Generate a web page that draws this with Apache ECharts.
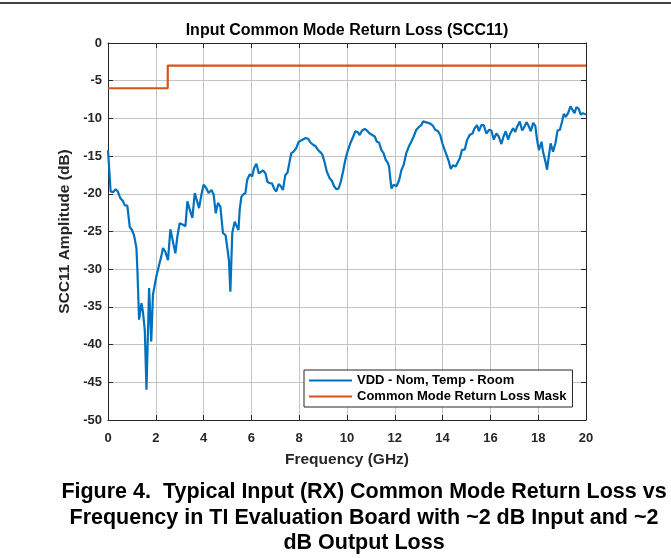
<!DOCTYPE html>
<html>
<head>
<meta charset="utf-8">
<script src="https://cdn.jsdelivr.net/npm/echarts@6/dist/echarts.min.js"></script>
<style>
html,body{margin:0;padding:0;background:#fff;}
#chart{width:671px;height:558px;}
</style>
</head>
<body>
<div id="chart"></div>
<script>
// ---- data ----
const freqGHz = [0,0.11,0.21,0.32,0.41,0.52,0.63,0.70,0.81,0.91,1.00,1.09,1.19,1.23,1.30,1.40,1.46,1.54,1.61,1.72,1.81,1.88,2.02,2.14,2.23,2.30,2.40,2.51,2.61,2.69,2.82,2.90,3.00,3.14,3.24,3.32,3.42,3.53,3.63,3.70,3.81,3.91,4.00,4.12,4.21,4.33,4.42,4.51,4.60,4.70,4.81,4.92,5.00,5.06,5.12,5.20,5.30,5.37,5.46,5.51,5.58,5.65,5.75,5.82,5.93,6.03,6.11,6.21,6.31,6.39,6.49,6.59,6.67,6.77,6.86,6.95,7.04,7.14,7.23,7.32,7.42,7.51,7.60,7.67,7.77,7.88,7.98,8.06,8.16,8.27,8.37,8.47,8.58,8.69,8.79,8.89,8.97,9.07,9.16,9.27,9.37,9.46,9.56,9.65,9.74,9.83,9.93,10.04,10.14,10.25,10.35,10.44,10.53,10.63,10.74,10.83,10.95,11.06,11.16,11.25,11.34,11.44,11.53,11.62,11.71,11.76,11.82,11.86,11.95,12.00,12.07,12.18,12.28,12.37,12.48,12.59,12.69,12.79,12.90,13.02,13.11,13.18,13.28,13.39,13.49,13.60,13.69,13.81,13.90,13.99,14.09,14.16,14.26,14.34,14.44,14.54,14.62,14.72,14.81,14.93,15.02,15.13,15.25,15.34,15.44,15.52,15.62,15.72,15.83,15.95,16.04,16.14,16.25,16.35,16.46,16.55,16.64,16.74,16.83,16.95,17.04,17.12,17.23,17.33,17.41,17.51,17.60,17.69,17.79,17.88,17.95,18.03,18.14,18.20,18.30,18.37,18.44,18.52,18.62,18.72,18.81,18.91,19.00,19.07,19.15,19.25,19.35,19.43,19.52,19.60,19.69,19.78,19.87,19.95,20.00];
const scc11dB = [-14.2,-19.7,-19.8,-19.4,-19.7,-20.6,-21.0,-21.5,-21.6,-24.4,-24.8,-25.5,-27.2,-30.1,-36.7,-34.5,-35.6,-38.1,-46.0,-32.5,-39.6,-33.4,-31.0,-29.4,-28.3,-27.2,-27.7,-28.8,-24.7,-24.7,-27.9,-25.7,-23.9,-24.1,-24.3,-21.0,-22.1,-23.2,-19.9,-19.9,-21.9,-20.1,-18.8,-19.3,-19.9,-19.5,-20.1,-22.6,-21.2,-21.7,-25.2,-25.5,-25.6,-28.8,-33.0,-25.2,-23.7,-23.8,-24.8,-22.1,-20.4,-20.1,-19.9,-18.2,-17.4,-17.7,-16.6,-16.0,-17.3,-17.3,-16.9,-17.3,-18.4,-18.6,-18.6,-19.3,-19.7,-18.7,-19.0,-19.5,-17.5,-17.2,-15.7,-14.6,-14.4,-13.9,-13.1,-13.2,-12.8,-12.6,-12.7,-13.2,-13.5,-13.7,-14.2,-14.5,-14.8,-15.9,-17.1,-17.9,-18.3,-19.0,-19.4,-19.3,-18.4,-17.1,-15.5,-14.2,-13.3,-12.5,-11.7,-11.8,-12.2,-11.6,-11.4,-11.6,-12.0,-12.2,-12.4,-13.1,-13.2,-14.2,-14.6,-15.5,-15.9,-16.4,-18.2,-19.3,-18.8,-18.9,-19.0,-18.2,-16.8,-16.2,-14.6,-13.7,-13.1,-12.4,-11.5,-11.1,-10.9,-10.4,-10.5,-10.6,-10.7,-11.0,-11.5,-11.7,-12.2,-13.3,-14.2,-14.8,-15.7,-16.7,-16.2,-16.4,-16.6,-15.3,-14.2,-14.1,-12.9,-12.2,-12.0,-11.3,-10.9,-11.7,-10.9,-10.9,-12.0,-11.5,-11.6,-12.8,-12.0,-12.4,-13.4,-12.4,-11.7,-12.8,-12.0,-11.3,-11.8,-11.1,-10.4,-11.6,-11.2,-10.5,-11.0,-11.7,-10.6,-11.0,-12.8,-14.2,-13.1,-14.4,-15.7,-16.8,-15.1,-13.3,-14.4,-13.3,-11.6,-11.5,-10.4,-9.4,-9.8,-9.3,-8.4,-8.5,-9.3,-8.5,-8.7,-9.5,-9.3,-9.4,-9.5];
const maskFreqGHz = [0, 2.5, 2.5, 20];
const maskdB = [-6, -6, -3, -3];
const seriesNames = ['VDD - Nom, Temp - Room', 'Common Mode Return Loss Mask'];
const chartTitle = 'Input Common Mode Return Loss (SCC11)';
const xAxisName = 'Frequency (GHz)';
const yAxisName = 'SCC11 Amplitude (dB)';
const captionLines = [
  'Figure 4.  Typical Input (RX) Common Mode Return Loss vs',
  'Frequency in TI Evaluation Board with ~2 dB Input and ~2',
  'dB Output Loss'
];

const FONT = "'Liberation Sans', Arial, sans-serif";
const AX = '#262626';
const blueData = freqGHz.map((f, i) => [f, scc11dB[i]]);
const maskData = maskFreqGHz.map((f, i) => [f, maskdB[i]]);

const chart = echarts.init(document.getElementById('chart'), null, {renderer: 'canvas'});
const baseAxis = {
  type: 'value',
  axisLine: {show: true, onZero: false, lineStyle: {color: AX, width: 1}},
  axisTick: {show: true, inside: true, length: 5, lineStyle: {color: AX}},
  splitLine: {show: false},
  axisLabel: {show: false}
};
chart.setOption({
  animation: false,
  backgroundColor: '#fff',
  grid: {left: 108, right: 85, top: 43, bottom: 138, containLabel: false},
  legend: {
    orient: 'vertical',
    left: 304, top: 370,
    data: seriesNames,
    icon: 'rect',
    itemWidth: 43, itemHeight: 2,
    itemGap: 3,
    padding: [4, 6, 4, 5],
    backgroundColor: '#fff',
    borderColor: AX, borderWidth: 1,
    textStyle: {fontFamily: FONT, fontWeight: 'bold', fontSize: 13, color: '#000'}
  },
  xAxis: [
    Object.assign({}, baseAxis, {
      position: 'bottom', min: 0, max: 20, interval: 2,
      name: xAxisName, nameLocation: 'middle', nameGap: 32,
      nameTextStyle: {fontFamily: FONT, fontWeight: 'bold', fontSize: 15.5, color: AX},
      axisLabel: {show: true, margin: 12, fontFamily: FONT, fontWeight: 'bold', fontSize: 13, color: AX},
      splitLine: {show: true, lineStyle: {color: '#c4c4c4', width: 1}}
    }),
    Object.assign({}, baseAxis, {position: 'top', min: 0, max: 20, interval: 2})
  ],
  yAxis: [
    Object.assign({}, baseAxis, {
      position: 'left', min: -50, max: 0, interval: 5,
      name: yAxisName, nameLocation: 'middle', nameGap: 32,
      nameTextStyle: {fontFamily: FONT, fontWeight: 'bold', fontSize: 15.5, color: AX},
      axisLabel: {show: true, margin: 6, fontFamily: FONT, fontWeight: 'bold', fontSize: 13, color: AX},
      splitLine: {show: true, lineStyle: {color: '#c4c4c4', width: 1}}
    }),
    Object.assign({}, baseAxis, {position: 'right', min: -50, max: 0, interval: 5})
  ],
  series: [
    {
      name: seriesNames[0], type: 'line', data: blueData,
      xAxisIndex: 0, yAxisIndex: 0,
      showSymbol: false, symbol: 'none',
      color: '#0072BD',
      lineStyle: {color: '#0072BD', width: 2.2}
    },
    {
      name: seriesNames[1], type: 'line', data: maskData,
      xAxisIndex: 0, yAxisIndex: 0,
      showSymbol: false, symbol: 'none',
      color: '#D95319',
      lineStyle: {color: '#D95319', width: 2.2}
    }
  ],
  graphic: [
    {type: 'line', shape: {x1: 0, y1: 3, x2: 671, y2: 3}, style: {stroke: '#000', lineWidth: 1.5}},
    {type: 'text', x: 347, y: 31, style: {text: chartTitle, font: "bold 16px " + FONT, fill: '#000', align: 'center', verticalAlign: 'middle'}},
    {type: 'text', x: 364, y: 492, style: {text: captionLines[0], font: "bold 21.5px " + FONT, fill: '#000', align: 'center', verticalAlign: 'middle'}},
    {type: 'text', x: 364, y: 518, style: {text: captionLines[1], font: "bold 21.5px " + FONT, fill: '#000', align: 'center', verticalAlign: 'middle'}},
    {type: 'text', x: 364, y: 543, style: {text: captionLines[2], font: "bold 21.5px " + FONT, fill: '#000', align: 'center', verticalAlign: 'middle'}}
  ]
});
</script>
</body>
</html>
